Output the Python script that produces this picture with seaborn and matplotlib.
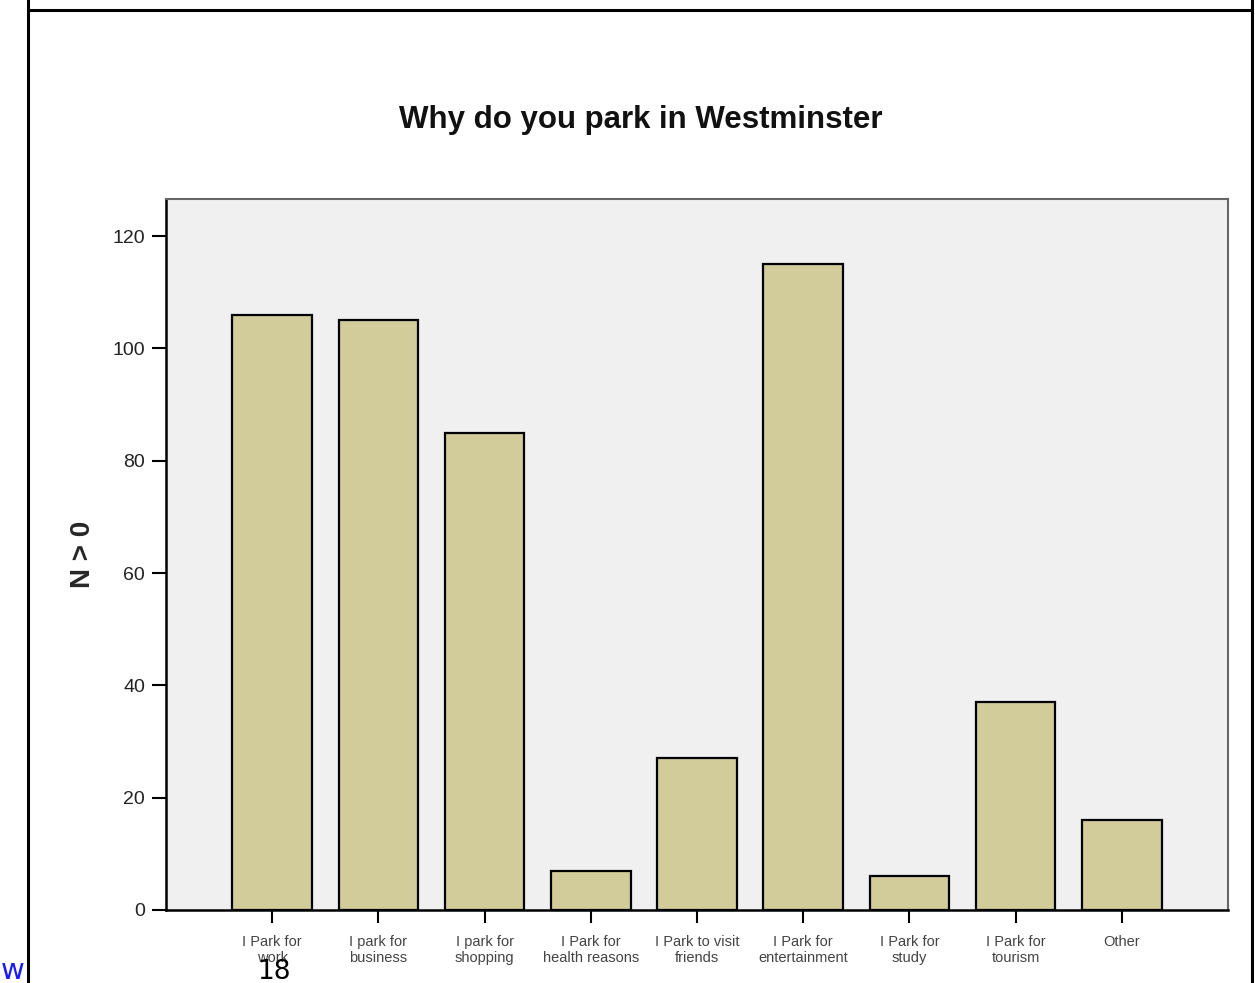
import matplotlib
matplotlib.use("Agg")
import matplotlib.pyplot as plt
from matplotlib.lines import Line2D
import seaborn as sns
import pandas as pd

categories = [
    "I Park for\nwork", "I park for\nbusiness", "I park for\nshopping",
    "I Park for\nhealth reasons", "I Park to visit\nfriends", "I Park for\nentertainment",
    "I Park for\nstudy", "I Park for\ntourism", "Other",
]
counts = [106, 105, 85, 7, 27, 115, 6, 37, 16]
y_ticks = [0, 20, 40, 60, 80, 100, 120]

sns.set_theme(style="white")
plt.rcParams["font.family"] = ["Liberation Sans", "DejaVu Sans"]

W, H = 1255, 983
fig = plt.figure(figsize=(W / 100, H / 100), dpi=100)
fig.patch.set_facecolor("white")

ax = fig.add_axes([166 / W, 1 - 910 / H, (1228 - 166) / W, (910 - 199) / H])
ax.set_facecolor("#F0F0F0")

df = pd.DataFrame({"reason": categories, "n": counts})
sns.barplot(data=df, x="reason", y="n", color="#D2CC9A", saturation=1,
            width=0.75, edgecolor="black", linewidth=1.6, ax=ax)

ax.set_xlim(-1, len(categories))
ax.set_ylim(0, 126.6)
ax.set_yticks(y_ticks)
ax.set_yticklabels([str(v) for v in y_ticks], fontsize=14, color="#222222")
ax.tick_params(axis="x", labelsize=10.5, labelcolor="#444444", length=9, width=1.5,
               color="black", direction="out", bottom=True, pad=9)
ax.tick_params(axis="y", length=10, width=1.5, color="black", direction="out",
               left=True, pad=5)
for lab in ax.get_xticklabels():
    lab.set_linespacing(1.2)

ax.set_xlabel("")
ax.set_ylabel("N > 0", fontsize=20, fontweight="bold", labelpad=12)

for side in ("left", "bottom"):
    ax.spines[side].set_color("black")
    ax.spines[side].set_linewidth(1.8)
for side in ("top", "right"):
    ax.spines[side].set_color("#666666")
    ax.spines[side].set_linewidth(1.5)
    ax.spines[side].set_visible(True)

fig.text(641 / W, 1 - 120 / H, "Why do you park in Westminster",
         ha="center", va="center", fontsize=22.5, fontweight="bold", color="#111111")

# page frame around the chart
fig.add_artist(Line2D([27.5 / W, 27.5 / W], [0, 1], color="black", lw=2.2))
fig.add_artist(Line2D([1252 / W, 1252 / W], [0, 1], color="black", lw=2.2))
fig.add_artist(Line2D([27.5 / W, 1252 / W], [1 - 9.5 / H, 1 - 9.5 / H], color="black", lw=2.2))

# page footer text
fig.text(1 / W, 4 / H, "w", ha="left", va="baseline", fontsize=21, color="#1a1aff",
         family="DejaVu Sans")
fig.text(274 / W, 4 / H, "18", ha="center", va="baseline", fontsize=19, color="black",
         family="DejaVu Sans")

fig.savefig("out.png", dpi=100, facecolor="white")
